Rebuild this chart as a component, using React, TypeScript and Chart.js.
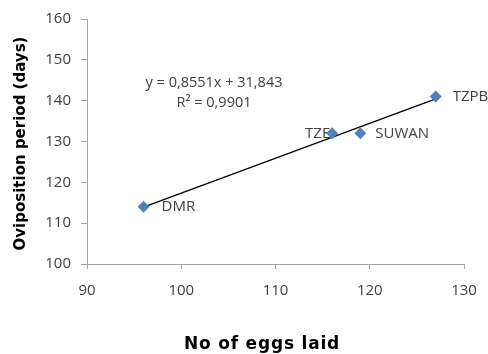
import React, { useEffect, useRef } from "react";
import { Chart, registerables } from "chart.js";

Chart.register(...registerables);

const varieties = ["DMR", "TZE", "SUWAN", "TZPB"];
const eggsLaid = [96, 116, 119, 127];
const ovipositionDays = [114, 132, 132, 141];
const trendSlope = 0.8551;
const trendIntercept = 31.843;
const equationText = "y = 0,8551x + 31,843";
const r2Text = "R² = 0,9901";
const xTitle = "No of eggs laid";
const yTitle = "Oviposition period (days)";

const labelOffsets: Record<string, [number, number]> = {
  DMR: [18, 0],
  TZE: [-27, 0],
  SUWAN: [15, 0],
  TZPB: [17, 0],
};

const TEXT_FONT = "'Open Sans', 'Noto Sans', sans-serif";

const annotPlugin = {
  id: "annot",
  beforeDatasetsDraw(chart: any) {
    const ctx = chart.ctx;
    const meta = chart.getDatasetMeta(0);
    ctx.save();
    ctx.font = `15px ${TEXT_FONT}`;
    ctx.fillStyle = "#404040";
    ctx.textBaseline = "middle";
    ctx.textAlign = "left";
    meta.data.forEach((pt: any, i: number) => {
      const name = varieties[i];
      const off = labelOffsets[name] || [15, 0];
      ctx.fillText(name, pt.x + off[0], pt.y + off[1]);
    });
    ctx.restore();
  },
  afterDraw(chart: any) {
    const ctx = chart.ctx;
    const ys = chart.scales.y;
    ctx.save();
    ctx.font = `14.5px ${TEXT_FONT}`;
    ctx.fillStyle = "#404040";
    ctx.textAlign = "center";
    ctx.textBaseline = "middle";
    ctx.fillText(equationText, 214, 83);
    ctx.fillText(r2Text, 214, 103);

    ctx.fillStyle = "#000000";
    ctx.font = "bold 17px 'DejaVu Sans', sans-serif";
    (ctx as any).letterSpacing = "0.8px";
    ctx.fillText(xTitle, 262, 345);
    (ctx as any).letterSpacing = "0px";
    ctx.translate(21, (ys.top + ys.bottom) / 2 + 2);
    ctx.rotate(-Math.PI / 2);
    ctx.font = "bold 15px 'DejaVu Sans', sans-serif";
    ctx.fillText(yTitle, 0, 0);
    ctx.restore();
  },
};

export default function App() {
  const ref = useRef<HTMLCanvasElement>(null);
  useEffect(() => {
    document.body.style.margin = "0";
    const points = eggsLaid.map((x, i) => ({ x, y: ovipositionDays[i] }));
    const xMin = Math.min(...eggsLaid);
    const xMax = Math.max(...eggsLaid);
    const trend = [
      { x: xMin, y: trendSlope * xMin + trendIntercept },
      { x: xMax, y: trendSlope * xMax + trendIntercept },
    ];
    const chart = new Chart(ref.current!, {
      type: "scatter",
      data: {
        datasets: [
          {
            type: "scatter",
            data: points,
            pointStyle: "rectRot",
            pointRadius: 6,
            pointHoverRadius: 6,
            backgroundColor: "#4F81BD",
            borderColor: "#4F81BD",
            borderWidth: 0,
            order: 1,
          },
          {
            type: "line",
            data: trend,
            borderColor: "#000000",
            borderWidth: 1.3,
            pointRadius: 0,
            showLine: true,
            fill: false,
            order: 2,
          } as any,
        ],
      },
      options: {
        animation: false,
        responsive: false,
        maintainAspectRatio: false,
        layout: { padding: { top: 19, right: 24, left: 0, bottom: 0 } },
        plugins: { legend: { display: false }, tooltip: { enabled: false } },
        scales: {
          x: {
            type: "linear",
            min: 90,
            max: 130,
            ticks: {
              stepSize: 10,
              padding: 3,
              color: "#404040",
              font: { size: 15, family: TEXT_FONT, lineHeight: 2.5 },
            },
            grid: {
              drawOnChartArea: false,
              drawTicks: true,
              tickLength: 5,
              color: "#A6A6A6",
            },
            border: { color: "#A6A6A6", width: 1 },
            afterFit: (s: any) => {
              s.height = 90;
            },
          },
          y: {
            type: "linear",
            min: 100,
            max: 160,
            ticks: {
              stepSize: 10,
              padding: 10,
              color: "#404040",
              font: { size: 15, family: TEXT_FONT },
            },
            grid: {
              drawOnChartArea: false,
              drawTicks: true,
              tickLength: 6,
              color: "#A6A6A6",
            },
            border: { color: "#A6A6A6", width: 1 },
            afterFit: (s: any) => {
              s.width = 87;
            },
          },
        },
      },
      plugins: [annotPlugin],
    });
    return () => chart.destroy();
  }, []);
  return (
    <div style={{ width: 488, height: 354, background: "#fff" }}>
      <canvas ref={ref} width={488} height={354} style={{ display: "block" }} />
    </div>
  );
}
